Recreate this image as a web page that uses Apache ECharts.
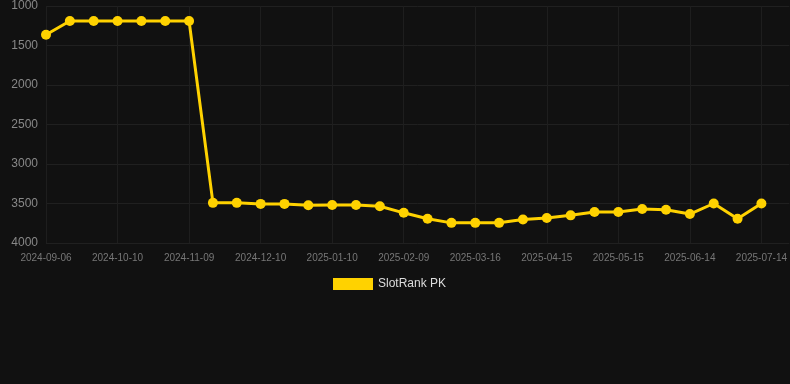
<!DOCTYPE html>
<html>
<head>
<meta charset="utf-8">
<script src="https://cdn.jsdelivr.net/npm/echarts@6/dist/echarts.min.js"></script>
<style>
  html, body { margin: 0; padding: 0; background: #111111; }
  #chart { width: 790px; height: 384px; }
</style>
</head>
<body>
<div id="chart"></div>
<script>
// dates (every third one is shown as a tick label)
const dates = [
  "2024-09-06", "2024-09-17", "2024-09-28",
  "2024-10-10", "2024-10-20", "2024-10-30",
  "2024-11-09", "2024-11-19", "2024-11-30",
  "2024-12-10", "2024-12-20", "2024-12-31",
  "2025-01-10", "2025-01-20", "2025-01-30",
  "2025-02-09", "2025-02-21", "2025-03-04",
  "2025-03-16", "2025-03-26", "2025-04-05",
  "2025-04-15", "2025-04-25", "2025-05-05",
  "2025-05-15", "2025-05-25", "2025-06-04",
  "2025-06-14", "2025-06-24", "2025-07-04",
  "2025-07-14"
];

// rank values (lower is better, axis inverted)
const slotRankPK = [
  1363, 1190, 1190, 1190, 1190, 1190, 1190,
  3492, 3492, 3505, 3505, 3522, 3520, 3520, 3535,
  3618, 3694, 3745, 3745, 3745, 3703, 3683, 3650,
  3608, 3608, 3570, 3578, 3633, 3500, 3694, 3500
];

const yTicks = { min: 1000, max: 4000, interval: 500 };

const chart = echarts.init(document.getElementById("chart"));

// x is the index into dates; axis runs a little past the last point
const seriesData = slotRankPK.map((v, i) => [i, v]);

const option = {
  backgroundColor: "#111111",
  animation: false,
  grid: {
    left: 46,
    right: 0,
    top: 6,
    bottom: 141,
  },
  legend: {
    data: ["SlotRank PK"],
    bottom: 89,
    left: 328,
    itemWidth: 40,
    itemHeight: 12,
    icon: "rect",
    textStyle: { color: "#dddddd", fontSize: 12 },
  },
  xAxis: {
    type: "value",
    min: 0,
    max: 31.17,
    interval: 3,
    axisLine: { show: false },
    axisTick: { show: false },
    axisLabel: {
      color: "#777777",
      fontSize: 10,
      margin: 10,
      showMaxLabel: false,
      formatter: (v) => dates[v] ?? "",
    },
    splitLine: {
      show: true,
      showMaxLine: false,
      lineStyle: { color: "#1e1e1e" },
    },
  },
  yAxis: {
    type: "value",
    inverse: true,
    min: yTicks.min,
    max: yTicks.max,
    interval: yTicks.interval,
    axisLine: { show: false },
    axisTick: { show: false },
    axisLabel: { color: "#888888", fontSize: 12, margin: 8, formatter: (v) => String(v) },
    splitLine: { lineStyle: { color: "#202020" } },
  },
  series: [
    {
      name: "SlotRank PK",
      type: "line",
      data: seriesData,
      symbol: "circle",
      symbolSize: 10,
      itemStyle: { color: "#ffd200" },
      lineStyle: { color: "#ffd200", width: 3 },
    },
  ],
};

chart.setOption(option);
</script>
</body>
</html>
